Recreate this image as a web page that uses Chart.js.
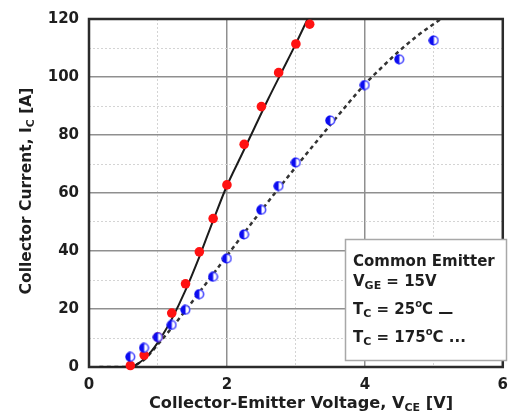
<!DOCTYPE html>
<html><head><meta charset="utf-8">
<script src="https://cdn.jsdelivr.net/npm/chart.js@4/dist/chart.umd.min.js"></script>
<style>html,body{margin:0;padding:0;background:#fff;} canvas{display:block;}</style>
</head><body>
<canvas id="c" width="517" height="414"></canvas>
<script>
const xTickLabels = [0, 2, 4, 6];
const yTickLabels = [0, 20, 40, 60, 80, 100, 120];
// measured points, Tc = 25 C (red)
const vce25 = [0.6, 0.8, 1.0, 1.2, 1.4, 1.6, 1.8, 2.0, 2.25, 2.5, 2.75, 3.0, 3.2];
const ic25  = [0.5, 4.1, 10.3, 18.6, 28.7, 39.7, 51.2, 62.8, 76.8, 89.8, 101.5, 111.4, 118.2];
// measured points, Tc = 175 C (blue)
const vce175 = [0.6, 0.8, 1.0, 1.2, 1.4, 1.6, 1.8, 2.0, 2.25, 2.5, 2.75, 3.0, 3.5, 4.0, 4.5, 5.0];
const ic175  = [3.5, 6.6, 10.3, 14.5, 19.7, 25.1, 31.1, 37.4, 45.7, 54.2, 62.4, 70.5, 85.0, 97.2, 106.1, 112.6];
// model curves
const curveV25 = [0.15, 0.6, 0.7, 0.8, 0.9, 1.0, 1.1, 1.2, 1.4, 1.6, 1.8, 2.0, 2.2, 2.4, 2.6, 2.8, 3.0, 3.17];
const curveI25 = [0, 0, 1, 2.8, 5.3, 8.5, 12.3, 16.5, 26.5, 38, 50.5, 62.5, 72.5, 82.5, 92.5, 102, 111.5, 120];
const curveV175 = [0.15, 0.6, 0.7, 0.8, 0.9, 1.0, 1.2, 1.4, 1.6, 1.8, 2.0, 2.5, 3.0, 3.5, 4.0, 4.25, 4.5, 4.75, 5.1];
const curveI175 = [0, 0, 1, 2.5, 5, 7.8, 13.5, 19.5, 25.8, 32, 38.3, 54, 69, 83.5, 97.5, 103.4, 109, 114, 120];

const zip = (xs, ys) => xs.map((x, i) => ({x, y: ys[i]}));
const FONT = '"DejaVu Sans", Arial, sans-serif';

function halfDot() {
  const c = document.createElement('canvas');
  c.width = 11; c.height = 11;
  const g = c.getContext('2d');
  g.beginPath(); g.arc(5.5, 5.5, 4.2, 0, Math.PI * 2);
  g.fillStyle = '#fff'; g.fill();
  g.lineWidth = 1.6; g.strokeStyle = '#4a4aff'; g.stroke();
  g.beginPath(); g.arc(5.5, 5.5, 5, Math.PI / 2, Math.PI * 1.5); g.closePath();
  g.fillStyle = '#0c0cf0'; g.fill();
  return c;
}

function drawRich(ctx, parts, x, y, align) {
  let w = 0;
  parts.forEach(p => { ctx.font = 'bold ' + p.s + 'px ' + FONT; p.w = ctx.measureText(p.t).width; w += p.w; });
  let cx = align === 'center' ? x - w / 2 : x;
  ctx.textAlign = 'left'; ctx.textBaseline = 'alphabetic';
  parts.forEach(p => { ctx.font = 'bold ' + p.s + 'px ' + FONT; ctx.fillText(p.t, cx, y + (p.dy || 0)); cx += p.w; });
}

const deco = {
  id: 'deco',
  beforeDatasetsDraw(chart) {
    const {ctx, chartArea: a} = chart;
    ctx.save();
    ctx.strokeStyle = '#2b2b2b'; ctx.lineWidth = 2.5;
    ctx.strokeRect(a.left, a.top, a.right - a.left, a.bottom - a.top);
    ctx.restore();
  },
  afterDraw(chart) {
    const ctx = chart.ctx;
    ctx.save();
    ctx.fillStyle = '#1e1e1e';
    // x title
    drawRich(ctx, [{t: 'Collector-Emitter Voltage, V', s: 16.2}, {t: 'CE', s: 11, dy: 3}, {t: ' [V]', s: 16.2}], 301, 408, 'center');
    // y title
    ctx.save();
    ctx.translate(31, 191); ctx.rotate(-Math.PI / 2);
    drawRich(ctx, [{t: 'Collector Current, I', s: 15.5}, {t: 'C', s: 11, dy: 3}, {t: ' [A]', s: 15.5}], 0, 0, 'center');
    ctx.restore();
    // legend box
    ctx.fillStyle = '#fff';
    ctx.fillRect(345.5, 239.5, 161, 121);
    ctx.strokeStyle = '#a8a8a8'; ctx.lineWidth = 1.5;
    ctx.strokeRect(345.5, 239.5, 161, 121);
    ctx.fillStyle = '#1e1e1e';
    const lx = 353;
    drawRich(ctx, [{t: 'Common Emitter', s: 15}], lx, 266);
    drawRich(ctx, [{t: 'V', s: 15}, {t: 'GE', s: 11, dy: 3}, {t: ' = 15V', s: 15}], lx, 286);
    drawRich(ctx, [{t: 'T', s: 15}, {t: 'C', s: 11, dy: 3}, {t: ' = 25', s: 15}, {t: 'o', s: 10, dy: -7}, {t: 'C ', s: 15}, {t: '\u2014', s: 15, dy: 3}], lx, 314);
    drawRich(ctx, [{t: 'T', s: 15}, {t: 'C', s: 11, dy: 3}, {t: ' = 175', s: 15}, {t: 'o', s: 10, dy: -7}, {t: 'C ...', s: 15}], lx, 342);
    ctx.restore();
  }
};

const isMajorX = v => Math.abs(v % 2) < 1e-6;
const isMajorY = v => Math.abs(v % 20) < 1e-6;

new Chart(document.getElementById('c'), {
  type: 'scatter',
  data: {
    datasets: [
      {data: zip(vce175, ic175), pointStyle: halfDot(), pointRadius: 5, showLine: false, clip: false},
      {data: zip(vce25, ic25), pointStyle: 'circle', pointRadius: 4.8, backgroundColor: '#ff1212', borderWidth: 0, showLine: false, clip: false},
      {data: zip(curveV25, curveI25), showLine: true, pointRadius: 0, borderColor: '#1c1c1c', borderWidth: 2, cubicInterpolationMode: 'monotone'},
      {data: zip(curveV175, curveI175), showLine: true, pointRadius: 0, borderColor: '#333', borderWidth: 2.5, borderDash: [4, 3.5], cubicInterpolationMode: 'monotone'}
    ]
  },
  options: {
    responsive: false, animation: false, devicePixelRatio: 1,
    layout: {padding: {top: 15, right: 8, left: 0, bottom: 0}},
    plugins: {legend: {display: false}, tooltip: {enabled: false}},
    scales: {
      x: {
        type: 'linear', min: 0, max: 6,
        afterFit: s => { s.height = 47; },
        ticks: {stepSize: 1, padding: 9, color: '#1e1e1e', font: {family: FONT, size: 15, weight: 'bold'},
                callback: v => xTickLabels.includes(v) ? String(v) : ''},
        grid: {drawTicks: false,
               color: c => isMajorX(c.tick.value) ? '#8f8f8f' : '#d4d4d4',
               lineWidth: c => isMajorX(c.tick.value) ? 1.5 : 1},
        border: {display: false, dash: c => (c.tick && isMajorX(c.tick.value)) ? [] : [2, 2]}
      },
      y: {
        type: 'linear', min: 0, max: 120,
        afterFit: s => { s.width = 89; },
        ticks: {stepSize: 10, padding: 10, color: '#1e1e1e', font: {family: FONT, size: 15, weight: 'bold'},
                callback: v => yTickLabels.includes(v) ? String(v) : ''},
        grid: {drawTicks: false,
               color: c => isMajorY(c.tick.value) ? '#8f8f8f' : '#d4d4d4',
               lineWidth: c => isMajorY(c.tick.value) ? 1.5 : 1},
        border: {display: false, dash: c => (c.tick && isMajorY(c.tick.value)) ? [] : [2, 2]}
      }
    }
  },
  plugins: [deco]
});
</script>
</body></html>
